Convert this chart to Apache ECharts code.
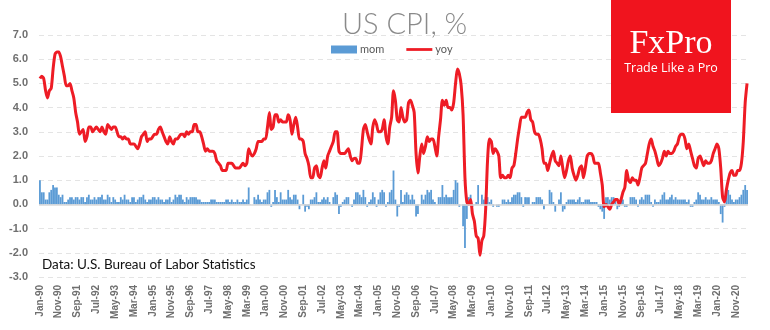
<!DOCTYPE html>
<html>
<head>
<meta charset="utf-8">
<script src="https://cdn.jsdelivr.net/npm/echarts@6/dist/echarts.min.js"></script>
<style>html,body{margin:0;padding:0;background:#fff}#c{width:770px;height:330px}</style>
</head>
<body>
<div id="c"></div>
<script>
// Month abbreviations and years used to build category labels (Jan-90 ... May-21)
var monthNames = ['Jan','Feb','Mar','Apr','May','Jun','Jul','Aug','Sep','Oct','Nov','Dec'];
var firstYear = 1990, lastYear = 2021, lastMonthCount = 5;

// Year-over-year CPI, % (monthly, Jan 1990 - May 2021)
var yoy = [
 5.2,5.3,5.2,4.7,4.4,4.7,4.8,5.6,6.2,6.3,6.3,6.1,
 5.7,5.3,4.9,4.9,5.0,4.7,4.4,3.8,3.4,2.9,3.0,3.1,
 2.6,2.8,3.2,3.2,3.0,3.1,3.2,3.1,3.0,3.2,3.0,2.9,
 3.3,3.2,3.1,3.2,3.2,3.0,2.8,2.8,2.7,2.8,2.7,2.7,
 2.5,2.5,2.5,2.4,2.3,2.5,2.8,2.9,3.0,2.6,2.7,2.7,
 2.8,2.9,2.9,3.1,3.2,3.0,2.8,2.6,2.5,2.8,2.6,2.5,
 2.7,2.7,2.8,2.9,2.9,2.8,3.0,2.9,3.0,3.0,3.3,3.3,
 3.0,3.0,2.8,2.5,2.2,2.3,2.2,2.2,2.2,2.1,1.8,1.7,
 1.6,1.4,1.4,1.4,1.7,1.7,1.7,1.6,1.5,1.5,1.5,1.6,
 1.7,1.6,1.7,2.3,2.1,2.0,2.1,2.3,2.6,2.6,2.6,2.7,
 2.7,3.2,3.8,3.1,3.2,3.7,3.7,3.4,3.5,3.4,3.4,3.4,
 3.7,3.5,2.9,3.3,3.6,3.2,2.7,2.7,2.6,2.1,1.9,1.6,
 1.1,1.1,1.5,1.6,1.2,1.1,1.5,1.8,1.5,2.0,2.2,2.4,
 2.6,3.0,3.0,2.2,2.1,2.1,2.1,2.2,2.3,2.0,1.8,1.9,
 1.9,1.7,1.7,2.3,3.1,3.3,3.0,2.7,2.5,3.2,3.5,3.3,
 3.0,3.0,3.1,3.5,2.8,2.5,3.2,3.6,4.7,4.3,3.5,3.4,
 4.0,3.6,3.4,3.5,4.2,4.3,4.1,3.8,2.1,1.3,2.0,2.5,
 2.1,2.4,2.8,2.6,2.7,2.7,2.4,2.0,2.8,3.5,4.3,4.1,
 4.3,4.0,4.0,3.9,4.2,5.0,5.6,5.4,4.9,3.7,1.1,0.1,
 0.0,0.2,-0.4,-0.7,-1.3,-1.4,-2.1,-1.5,-1.3,-0.2,1.8,2.7,
 2.6,2.1,2.3,2.2,2.0,1.1,1.2,1.1,1.1,1.2,1.1,1.5,
 1.6,2.1,2.7,3.2,3.6,3.6,3.6,3.8,3.9,3.5,3.4,3.0,
 2.9,2.9,2.7,2.3,1.7,1.7,1.4,1.7,2.0,2.2,1.8,1.7,
 1.6,2.0,1.5,1.1,1.4,1.8,2.0,1.5,1.2,1.0,1.2,1.5,
 1.6,1.1,1.5,2.0,2.1,2.1,2.0,1.7,1.7,1.7,1.3,0.8,
 -0.1,0.0,-0.1,-0.2,0.0,0.1,0.2,0.2,0.0,0.2,0.5,0.7,
 1.4,1.0,0.9,1.1,1.0,1.0,0.8,1.1,1.5,1.6,1.7,2.1,
 2.5,2.7,2.4,2.2,1.9,1.6,1.7,1.9,2.2,2.0,2.2,2.1,
 2.1,2.2,2.4,2.5,2.8,2.9,2.9,2.7,2.3,2.5,2.2,1.9,
 1.6,1.5,1.9,2.0,1.8,1.6,1.8,1.7,1.7,1.8,2.1,2.3,
 2.5,2.3,1.5,0.3,0.1,0.6,1.0,1.3,1.4,1.2,1.2,1.4,
 1.4,1.7,2.6,4.2,5.0
];

// Month-over-month CPI, % (monthly, Jan 1990 - May 2021)
var mom = [
 1.0,0.5,0.5,0.2,0.2,0.5,0.6,0.8,0.7,0.7,0.4,0.3,
 0.4,0.1,0.1,0.2,0.3,0.3,0.2,0.3,0.3,0.2,0.3,0.3,
 0.1,0.3,0.4,0.2,0.2,0.3,0.2,0.3,0.3,0.4,0.2,0.2,
 0.4,0.3,0.1,0.3,0.2,0.1,0.1,0.3,0.2,0.4,0.2,0.2,
 0.1,0.3,0.3,0.1,0.2,0.3,0.3,0.4,0.2,0.1,0.2,0.2,
 0.3,0.3,0.2,0.3,0.2,0.2,0.1,0.2,0.2,0.3,0.1,0.2,
 0.4,0.3,0.4,0.4,0.2,0.1,0.3,0.2,0.3,0.3,0.3,0.3,
 0.2,0.2,0.1,0.1,0.1,0.1,0.1,0.2,0.2,0.2,0.1,0.1,
 0.1,0.1,0.1,0.2,0.2,0.1,0.2,0.1,0.1,0.2,0.1,0.1,
 0.2,0.1,0.2,0.7,0.0,0.0,0.3,0.2,0.4,0.2,0.1,0.2,
 0.2,0.5,0.6,-0.1,0.1,0.6,0.3,0.1,0.5,0.2,0.2,0.2,
 0.6,0.3,0.2,0.4,0.4,0.2,-0.2,0.0,0.4,-0.3,-0.1,-0.2,
 0.2,0.2,0.3,0.5,0.1,0.1,0.2,0.3,0.2,0.3,0.1,0.0,
 0.3,0.5,0.4,-0.4,-0.1,0.1,0.2,0.3,0.3,0.0,-0.1,0.2,
 0.5,0.5,0.4,0.3,0.6,0.3,-0.1,0.1,0.2,0.5,0.3,-0.1,
 0.2,0.5,0.6,0.5,-0.1,0.1,0.5,0.6,1.4,0.2,-0.5,-0.1,
 0.6,0.1,0.4,0.5,0.4,0.2,0.4,0.2,-0.5,-0.4,0.0,0.4,
 0.2,0.4,0.6,0.5,0.6,0.2,0.1,0.0,0.3,0.3,0.8,0.3,
 0.4,0.3,0.3,0.3,0.6,1.0,0.9,-0.1,0.0,-0.9,-1.8,-0.6,
 0.3,0.4,-0.1,0.0,0.1,0.8,0.0,0.4,0.2,0.3,0.3,0.1,
 0.2,-0.1,0.0,-0.1,-0.1,0.0,0.2,0.2,0.1,0.2,0.1,0.3,
 0.4,0.4,0.5,0.5,0.3,-0.1,0.3,0.3,0.3,0.0,0.1,0.1,
 0.3,0.3,0.3,0.2,-0.2,0.0,0.0,0.6,0.5,0.1,-0.3,0.0,
 0.2,0.5,-0.3,-0.2,0.1,0.2,0.2,0.2,0.2,0.1,0.2,0.3,
 0.1,0.1,0.2,0.2,0.2,0.1,0.1,0.1,0.1,-0.1,-0.2,-0.3,
 -0.6,0.3,0.3,0.2,0.3,0.3,0.2,-0.2,-0.1,0.2,0.2,-0.1,
 -0.1,0.0,0.3,0.3,0.3,0.2,-0.1,0.2,0.3,0.2,0.4,0.4,
 0.4,0.1,-0.1,0.2,0.1,0.1,0.2,0.4,0.5,0.2,0.2,0.3,
 0.4,0.2,0.3,0.2,0.2,0.2,0.2,0.2,0.1,0.2,-0.1,-0.1,
 0.1,0.2,0.5,0.4,0.2,0.2,0.3,0.2,0.2,0.3,0.2,0.2,
 0.2,0.1,-0.4,-0.75,-0.1,0.5,0.6,0.4,0.2,0.1,0.2,0.2,
 0.3,0.4,0.6,0.8,0.6
];

var categories = [];
for (var y = firstYear; y <= lastYear; y++) {
  var n = (y === lastYear) ? lastMonthCount : 12;
  for (var m = 0; m < n; m++) categories.push(monthNames[m] + '-' + String(y).slice(2));
}

// Axis tick values
var yMin = -3, yMax = 7, yStep = 1;

var chart = echarts.init(document.getElementById('c'), null, {renderer: 'canvas'});
var grey = '#6f6f6f';
chart.setOption({
  animation: false,
  title: {
    text: 'US CPI, %', left: 337, top: 5,
    textStyle: {fontFamily: 'Lato', fontWeight: 300, fontSize: 29, color: '#8a8a8a'}
  },
  legend: {
    left: 326, top: 39, itemGap: 22, itemWidth: 26, itemHeight: 8,
    textStyle: {fontFamily: 'Lato', fontSize: 11, color: '#595959', padding: [0,0,0,-2]},
    data: [{name: 'mom', icon: 'rect'}, {name: 'yoy', icon: 'path://M0,0H28V3H0Z'}]
  },
  grid: {left: 39, right: 22, top: 35, bottom: 53},
  xAxis: {
    type: 'category', data: categories, boundaryGap: true,
    axisLine: {show: false, onZero: false}, axisTick: {show: false},
    axisLabel: {interval: 9, rotate: 90, margin: 8, fontFamily: 'Liberation Sans', fontWeight: 'bold', fontSize: 10, color: grey}
  },
  yAxis: {
    type: 'value', min: yMin, max: yMax, interval: yStep,
    axisLine: {show: false}, axisTick: {show: false},
    axisLabel: {formatter: function(v){return v.toFixed(1);}, margin: 11, fontFamily: 'Liberation Sans', fontWeight: 'bold', fontSize: 11, color: grey},
    splitLine: {lineStyle: {color: '#e4e4e4', type: [5,4], width: 1}}
  },
  series: [
    {
      name: 'mom', type: 'bar', data: mom, barCategoryGap: '4%',
      itemStyle: {color: '#5b9bd5'},
      markLine: {silent: true, symbol: 'none', label: {show: false},
        lineStyle: {color: '#d9d9d9', type: 'solid', width: 1.5}, data: [{yAxis: 0}]},
      z: 2
    },
    {
      name: 'yoy', type: 'line', data: yoy, smooth: 0.25, symbol: 'none', showSymbol: false,
      lineStyle: {color: '#ee1c25', width: 3}, itemStyle: {color: '#ee1c25'}, z: 3
    }
  ],
  graphic: [
    {type: 'text', left: 42, top: 258, style: {text: 'Data: U.S. Bureau of Labor Statistics', fontFamily: 'Lato', fontSize: 13.5, fill: '#111'}},
    {type: 'rect', shape: {x: 611, y: 0, width: 120, height: 113}, style: {fill: '#f0141e'}, z: 10},
    {type: 'text', x: 671, y: 44, z: 11, style: {text: 'FxPro', fontFamily: 'Liberation Serif', fontSize: 34, fill: '#fff', textAlign: 'center', textVerticalAlign: 'middle'}},
    {type: 'text', x: 671, y: 68, z: 11, style: {text: 'Trade Like a Pro', fontFamily: 'Open Sans', fontSize: 12.5, fill: '#fff', textAlign: 'center', textVerticalAlign: 'middle'}}
  ]
});
</script>
</body>
</html>
